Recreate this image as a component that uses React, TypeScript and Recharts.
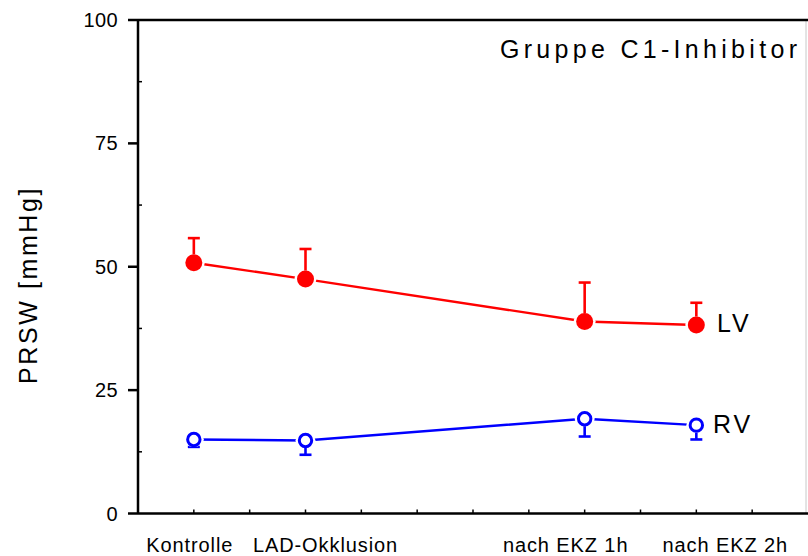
import React from 'react';
import {
  LineChart,
  Line,
  XAxis,
  YAxis,
  ErrorBar,
  ReferenceLine,
} from 'recharts';

// Time points (x position on the numeric axis) and their labels
const timePoints = [1, 2, 4.5, 5.5];
const timeLabels = ['Kontrolle', 'LAD-Okklusion', 'nach EKZ 1h', 'nach EKZ 2h'];

// PRSW [mmHg], mean and SD
const lvMean = [50.8, 47.5, 38.9, 38.2];
const lvSd = [5.0, 6.1, 7.9, 4.5];
const rvMean = [15.0, 14.8, 19.2, 17.9];
const rvSd = [1.5, 2.9, 3.6, 2.9];

const yTicks = [0, 12.5, 25, 37.5, 50, 62.5, 75, 87.5, 100];
const xTicks = [1, 1.5, 2, 2.5, 3, 3.5, 4, 4.5, 5, 5.5, 6];

// LV bars point up, RV bars point down
const data = timePoints.map((x, i) => ({
  x,
  lv: lvMean[i],
  lvErr: [0, lvSd[i]],
  rv: rvMean[i],
  rvErr: [rvSd[i], 0],
}));

const FONT = '"Liberation Sans", Arial, sans-serif';
const RED = '#ff0000';
const BLUE = '#0000ff';

// label nudges relative to the tick they belong to
const labelShift: Record<string, number> = {
  Kontrolle: -4,
  'LAD-Okklusion': 20,
  'nach EKZ 1h': -19,
  'nach EKZ 2h': 29,
};

const YTick = (props: any) => {
  const { x, y, payload } = props;
  const ax = x + 20;
  const v = payload.value;
  if (v % 25 === 0) {
    return (
      <g>
        <line x1={ax - 10} x2={ax} y1={y} y2={y} stroke="#000" strokeWidth={2.5} />
        <text
          x={ax - 20}
          y={y}
          textAnchor="end"
          dominantBaseline="central"
          fontFamily={FONT}
          fontSize={20}
          letterSpacing={0.4}
          fill="#000"
        >
          {v}
        </text>
      </g>
    );
  }
  return <line x1={ax} x2={ax + 4} y1={y} y2={y} stroke="#000" strokeWidth={1.5} />;
};

const XTick = (props: any) => {
  const { x, y, payload } = props;
  const ay = y - 10;
  const idx = timePoints.indexOf(payload.value);
  const label = idx >= 0 ? timeLabels[idx] : null;
  return (
    <g>
      <line x1={x} x2={x} y1={ay} y2={ay - 4} stroke="#000" strokeWidth={1.5} />
      {label && (
        <text
          x={x + labelShift[label]}
          y={ay + 38}
          textAnchor="middle"
          fontFamily={FONT}
          fontSize={20}
          letterSpacing={0.9}
          fill="#000"
        >
          {label}
        </text>
      )}
    </g>
  );
};

// white halo keeps a small gap between the connecting line and the marker
const LvDot = (props: any) => {
  const { cx, cy } = props;
  return (
    <g>
      <ellipse cx={cx} cy={cy} rx={11} ry={8.5} fill="#fff" />
      <circle cx={cx} cy={cy} r={8.5} fill={RED} />
    </g>
  );
};

const RvDot = (props: any) => {
  const { cx, cy } = props;
  return (
    <g>
      <ellipse cx={cx} cy={cy} rx={10} ry={7.6} fill="#fff" />
      <circle cx={cx} cy={cy} r={6.2} fill="#fff" stroke={BLUE} strokeWidth={3} />
    </g>
  );
};

export default function App() {
  return (
    <div style={{ width: 808, height: 556 }}>
      <style>{'body{margin:0}'}</style>
      <LineChart
        width={808}
        height={556}
        data={data}
        margin={{ top: 20, right: 0, bottom: 2.5, left: 78 }}
      >
        <XAxis
          type="number"
          dataKey="x"
          domain={[0.5, 6.5]}
          ticks={xTicks}
          interval={0}
          height={40}
          tickSize={10}
          tickMargin={0}
          tickLine={false}
          axisLine={{ stroke: '#000', strokeWidth: 2.5 }}
          tick={<XTick />}
        />
        <YAxis
          type="number"
          domain={[0, 100]}
          ticks={yTicks}
          interval={0}
          width={60}
          tickSize={10}
          tickMargin={10}
          tickLine={false}
          axisLine={{ stroke: '#000', strokeWidth: 2.5 }}
          tick={<YTick />}
        />
        <ReferenceLine y={100} stroke="#000" strokeWidth={2.5} />

        {/* error bars on hidden series, the markers are drawn over them */}
        <Line dataKey="lv" stroke="none" dot={false} activeDot={false} isAnimationActive={false}>
          <ErrorBar dataKey="lvErr" width={6} stroke={RED} strokeWidth={2.6} />
        </Line>
        <Line dataKey="rv" stroke="none" dot={false} activeDot={false} isAnimationActive={false}>
          <ErrorBar dataKey="rvErr" width={6} stroke={BLUE} strokeWidth={2.6} />
        </Line>

        <Line
          dataKey="lv"
          stroke={RED}
          strokeWidth={2.4}
          dot={<LvDot />}
          activeDot={false}
          isAnimationActive={false}
        />
        <Line
          dataKey="rv"
          stroke={BLUE}
          strokeWidth={2.4}
          dot={<RvDot />}
          activeDot={false}
          isAnimationActive={false}
        />

        <line x1={806} x2={806} y1={20} y2={513} stroke="#c8c8c8" strokeWidth={1} />

        <text x={500} y={58} fontFamily={FONT} fontSize={25} letterSpacing={4.3} fill="#000">
          Gruppe C1-Inhibitor
        </text>
        <text x={717} y={332} fontFamily={FONT} fontSize={25} letterSpacing={3} fill="#000">
          LV
        </text>
        <text x={713} y={433} fontFamily={FONT} fontSize={25} letterSpacing={3} fill="#000">
          RV
        </text>
        <text
          x={37}
          y={285}
          transform="rotate(-90, 37, 285)"
          textAnchor="middle"
          fontFamily={FONT}
          fontSize={25}
          letterSpacing={2.6}
          fill="#000"
        >
          PRSW [mmHg]
        </text>
      </LineChart>
    </div>
  );
}
